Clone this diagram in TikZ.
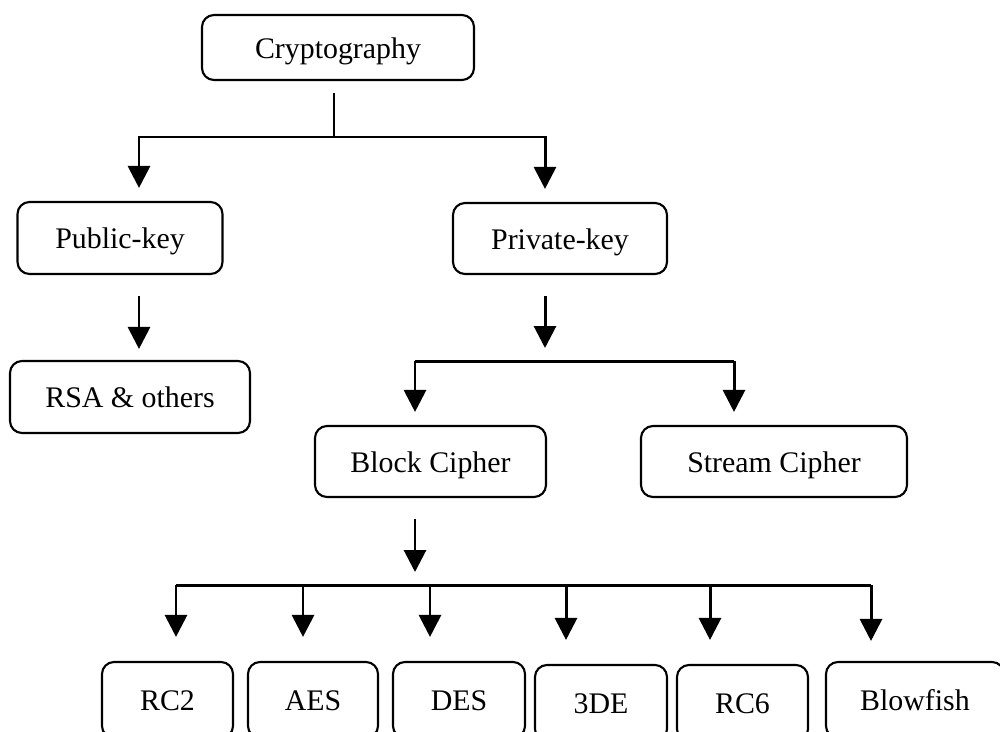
\documentclass[tikz,border=0pt]{standalone}
\usepackage{fontspec}
\setmainfont{Liberation Serif}
\usepackage{tikz}
\usetikzlibrary{arrows.meta,calc,positioning}

\tikzset{
  box/.style={draw, line width=1.2pt, rounded corners=2.4mm, inner sep=0pt,
    text height=14pt, text depth=1.5pt,
    font=\fontsize{17}{20}\selectfont},
  wire/.style={line width=1.7pt},
  arr/.style={wire, -{Triangle[width=12.5pt,length=12.5pt]}}
}

\begin{document}
\begin{tikzpicture}[x=0.2mm, y=-0.2mm]
            \useasboundingbox (0,0) rectangle (1000,731);
            \clip (0,0) rectangle (1000,731);
            % Draw the root and the two key families
            \node[box, minimum width=54.4mm, minimum height=13mm] (crypto) at (338,47.5) {Cryptography};
            \node[box, minimum width=41mm, minimum height=14.4mm] (pub) at (120,238) {Public-key};
            \node[box, minimum width=42.8mm, minimum height=14.2mm] (priv) at (560,238.5) {Private-key};
            \node[box, minimum width=48mm, minimum height=14.4mm] (rsa) at (130,397) {RSA \& others};
            % Draw the private-key branches
            \node[box, minimum width=46.2mm, minimum height=14.2mm] (block) at (430.5,461.5) {Block Cipher};
            \node[box, minimum width=53.2mm, minimum height=14.2mm] (stream) at (774,461.5) {Stream Cipher};
            % Draw the block ciphers
            \node[box, minimum width=26.2mm, minimum height=15.2mm] (rc2) at (167.5,700) {RC2};
            \node[box, minimum width=26mm, minimum height=15.2mm] (aes) at (313,700) {AES};
            \node[box, minimum width=26.4mm, minimum height=15.2mm] (des) at (459,700) {DES};
            \node[box, minimum width=26.4mm, minimum height=15.2mm] (tde) at (601,703) {3DE};
            \node[box, minimum width=26.2mm, minimum height=15.2mm] (rc6) at (742.5,703) {RC6};
            \node[box, minimum width=35.6mm, minimum height=15.2mm] (blow) at (915,700) {Blowfish};
            % Bus points
            \coordinate (cbus) at (334,137);
            \coordinate (cpub) at (139,137);
            \coordinate (cpriv) at (545,137);
            \coordinate (pbus) at (545,361);
            \coordinate (pblock) at (415,361);
            \coordinate (pstream) at (734,361);
            \coordinate (bbus) at (415,585);
            \foreach \x/\n in {176/rc2, 303/aes, 430/des, 566/tde, 710/rc6, 871/blow}
              \coordinate (b\n) at (\x,585);
            % Draw connecting arrows
            \draw[wire, shorten <=2.4mm] (crypto.south -| cbus) -- (cbus);
            \draw[arr, shorten >=2.6mm] (cbus) -| (cpub |- pub.north);
            \draw[arr, shorten >=2.6mm] (cbus) -| (cpriv |- priv.north);
            \draw[arr, shorten <=4.2mm, shorten >=2.2mm] (pub.south -| cpub) -- (rsa.north -| cpub);
            \draw[arr, shorten <=4.2mm, shorten >=2.6mm] (priv.south -| pbus) -- (pbus);
            \draw[wire] (pblock) -- (pstream);
            \draw[arr, shorten >=2.6mm] (pblock) -- (pblock |- block.north);
            \draw[arr, shorten >=2.6mm] (pstream) -- (pstream |- stream.north);
            \draw[arr, shorten <=4.2mm, shorten >=2.6mm] (block.south -| bbus) -- (bbus);
            \draw[wire] (brc2) -- (bblow);
            \foreach \n in {rc2, aes, des, tde, rc6}
              \draw[arr, shorten >=4.8mm] (b\n) -- (b\n |- \n.north);
            \draw[arr, shorten >=4mm] (bblow) -- (bblow |- blow.north);
        \end{tikzpicture}
\end{document}
